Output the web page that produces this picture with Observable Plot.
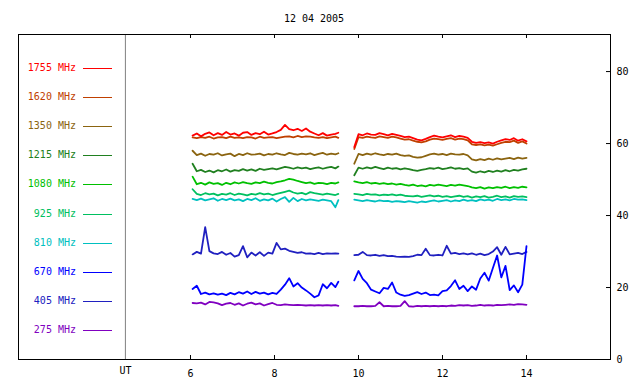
<!DOCTYPE html>
<html><head><meta charset="utf-8">
<script src="https://cdn.jsdelivr.net/npm/d3@7"></script>
<script src="https://cdn.jsdelivr.net/npm/@observablehq/plot@0.6"></script>
<style>
body{margin:0;background:#fff}
#wrap{position:relative;width:640px;height:384px;font-family:"DejaVu Sans Mono",monospace;font-size:10px}
#wrap svg{position:absolute;left:0;top:0}
#title{position:absolute;left:18px;width:592px;top:12px;text-align:center;line-height:14px;z-index:1}
#legend{position:absolute;left:0;top:0;width:125px;height:384px;z-index:1}
.row{position:absolute;left:0;display:flex;align-items:center;height:14px}
.lab{width:76px;text-align:right;white-space:pre;line-height:14px}
.sw{margin-left:7px;width:29px;height:1px}
</style></head>
<body><div id="wrap"><div id="title"></div><div id="legend"></div></div>
<script>
const titleText = "12 04 2005";
const hourTicks = [6, 8, 10, 12, 14];
const valueTicks = [0, 20, 40, 60, 80];
const panelEdge = [4.45];
const xDomain = [1.905, 16.0];
const yDomain = [0, 90.3];

const labels = ["1755 MHz","1620 MHz","1350 MHz","1215 MHz","1080 MHz","925 MHz","810 MHz","670 MHz","405 MHz","275 MHz"];
const colors = ["#ff0000","#c04000","#8b6410","#208020","#00c000","#00c060","#00c0c0","#0000ff","#2020c0","#8000c0"];

const times1 = [6.05,6.15,6.25,6.35,6.45,6.55,6.65,6.75,6.85,6.95,
  7.05,7.15,7.25,7.35,7.45,7.55,7.65,7.75,7.85,7.95,
  8.05,8.15,8.25,8.35,8.45,8.55,8.65,8.75,8.85,8.95,
  9.05,9.15,9.25,9.35,9.45,9.52];
const times2 = [9.9,10.0,10.1,10.2,10.3,10.4,10.5,10.6,10.7,10.8,
  10.9,11.0,11.1,11.2,11.3,11.4,11.5,11.6,11.7,11.8,
  11.9,12.0,12.1,12.2,12.3,12.4,12.5,12.6,12.7,12.8,
  12.9,13.0,13.1,13.2,13.3,13.4,13.5,13.6,13.7,13.8,
  13.9,14.0];

const f1755a = [62.2,62.8,62.0,62.7,63.1,62.3,62.9,62.4,63.2,62.5,
  62.8,62.2,63.0,63.2,62.4,62.9,62.6,63.3,62.5,62.8,
  63.2,63.8,65.2,64.0,63.7,64.1,63.5,64.2,63.3,62.8,
  62.3,62.9,62.2,62.5,62.7,63.0];
const f1755b = [59.0,62.6,62.3,62.8,62.5,62.4,62.9,62.6,62.3,62.7,
  62.4,62.1,61.8,61.9,61.5,61.1,60.9,61.3,61.8,62.2,
  61.9,61.7,62.0,62.3,61.8,62.1,61.9,61.6,60.5,60.2,
  60.4,60.1,60.3,60.0,60.5,60.9,61.2,61.0,61.5,60.8,
  61.2,60.6];
const f1620a = [61.7,61.5,61.8,61.6,61.9,61.4,61.7,61.8,61.5,61.9,
  61.6,61.7,61.5,61.8,61.7,61.4,61.9,61.6,61.7,61.8,
  61.5,61.7,61.9,62.0,61.7,62.1,61.8,62.0,61.9,61.7,
  61.6,61.8,61.5,61.7,61.9,61.6];
const f1620b = [58.5,61.8,61.6,61.9,61.7,61.6,62.0,61.8,61.6,61.9,
  61.7,61.4,61.1,61.2,60.8,60.5,60.3,60.6,61.1,61.4,
  61.2,61.0,61.3,61.5,61.1,61.4,61.2,60.9,59.8,59.6,
  59.8,59.5,59.7,59.4,59.8,60.2,60.5,60.4,60.8,60.2,
  60.6,60.0];
const f1350a = [58.0,56.8,57.2,56.6,57.1,56.9,57.3,56.7,57.0,57.2,
  56.5,57.1,56.8,57.3,56.9,57.0,57.2,56.7,57.1,56.9,
  57.3,57.0,56.8,57.4,57.1,56.9,57.2,57.0,57.3,56.8,
  57.1,57.4,56.9,57.2,57.0,57.3];
const f1350b = [54.4,57.1,56.8,57.2,56.9,57.3,57.0,56.8,57.1,56.9,
  57.2,56.8,56.6,56.7,56.3,56.1,56.2,56.6,57.0,57.2,
  56.9,57.1,56.8,57.2,57.0,56.9,57.1,56.7,55.6,55.3,
  55.7,55.4,55.8,55.5,55.9,55.6,55.8,56.0,55.7,56.1,
  55.8,56.0];
const f1215a = [54.4,52.3,52.7,52.1,52.5,52.0,52.6,52.3,52.8,52.2,
  52.6,52.4,52.9,52.5,52.8,52.4,53.0,52.7,52.9,53.1,
  52.8,53.2,53.5,53.3,53.0,53.4,53.1,53.3,52.9,53.2,
  53.4,53.0,53.3,53.5,53.1,53.6];
const f1215b = [51.2,53.3,53.0,53.4,53.1,53.5,53.2,52.9,53.3,53.0,
  53.2,52.8,53.1,52.9,52.6,52.4,52.7,52.9,53.2,53.0,
  53.3,52.9,53.1,53.4,53.0,53.2,52.9,53.1,52.2,51.9,
  52.3,52.0,52.4,52.1,52.5,52.2,52.6,52.3,52.7,52.5,
  52.8,53.0];
const f1080a = [50.8,48.7,49.1,48.6,49.2,48.8,49.0,48.5,49.1,48.7,
  49.2,48.9,49.3,49.0,48.8,49.2,49.0,49.4,49.1,48.9,
  49.3,49.5,49.8,50.2,50.0,49.6,49.3,49.0,49.2,48.8,
  49.1,49.0,48.7,49.1,48.9,49.2];
const f1080b = [49.5,49.2,49.0,49.3,48.9,49.1,48.8,49.0,48.7,48.9,
  48.6,48.8,48.5,48.3,48.6,48.2,48.4,48.1,48.5,48.3,
  48.6,48.4,48.2,48.5,48.3,48.6,48.4,48.2,47.8,47.6,
  47.9,47.5,47.8,47.6,47.9,47.7,48.0,47.6,47.9,47.7,
  48.0,47.8];
const f925a = [47.3,46.0,45.7,46.2,45.9,46.1,45.6,46.0,45.8,46.2,
  45.7,46.1,45.9,45.6,46.0,45.8,46.2,45.9,46.1,45.7,
  46.0,46.3,46.6,46.9,46.4,46.1,46.3,45.9,46.5,46.2,
  46.0,45.8,46.1,45.9,45.7,46.0];
const f925b = [46.0,45.9,45.7,46.0,45.8,45.9,45.6,45.8,45.7,45.9,
  45.6,45.8,45.5,45.4,45.3,45.5,45.2,45.4,45.6,45.3,
  45.5,45.2,45.4,45.1,45.3,45.5,45.2,45.4,45.0,45.3,
  45.1,45.4,45.0,45.2,45.5,45.1,45.3,45.0,45.4,45.2,
  45.3,45.1];
const f810a = [44.6,44.3,44.7,44.2,44.5,44.8,44.1,44.6,44.3,44.7,
  44.2,44.5,44.0,44.6,44.3,44.8,44.1,44.5,44.2,44.7,
  43.9,44.6,45.1,43.8,44.9,44.0,44.6,44.2,44.5,44.3,
  44.1,44.4,44.2,44.0,42.3,44.3];
const f810b = [44.4,44.2,44.0,44.3,44.1,43.9,44.2,44.0,44.1,43.8,
  44.0,43.9,43.7,44.0,43.8,43.6,43.9,43.7,44.0,44.2,
  43.9,44.1,44.3,43.9,44.2,44.0,44.4,44.1,44.3,44.0,
  44.5,44.2,44.4,44.1,44.6,44.3,44.5,44.2,44.6,44.4,
  44.5,44.3];
const f670a = [19.6,20.5,18.2,18.6,18.1,18.4,18.0,18.3,17.9,18.5,
  18.1,18.7,18.3,18.9,18.2,18.8,18.3,18.6,18.1,18.5,
  18.2,19.4,20.8,22.6,20.3,21.2,20.0,19.2,18.3,17.3,
  17.8,20.9,19.8,21.3,20.1,21.6];
const f670b = [22.0,24.6,22.4,21.2,19.4,18.9,18.4,19.9,19.6,21.4,
  18.6,18.0,17.7,17.9,18.3,18.7,18.2,18.6,17.9,18.0,
  17.8,19.0,19.2,20.4,22.0,19.6,20.5,19.0,20.3,19.4,
  22.5,24.1,21.9,25.4,28.9,22.8,26.0,19.3,20.6,18.7,
  20.8,31.5];
const f405a = [29.2,29.9,29.4,36.8,30.1,29.5,29.3,29.9,29.1,29.6,
  28.6,29.0,31.5,28.4,29.7,28.9,29.8,28.8,29.7,29.4,
  32.4,30.6,30.8,30.2,29.9,29.6,29.8,29.4,29.5,29.3,
  29.6,29.3,29.5,29.4,29.5,29.4];
const f405b = [29.0,29.1,29.9,29.0,28.9,29.1,28.8,29.0,28.7,28.8,
  28.6,28.5,28.6,28.5,28.7,29.1,29.0,30.8,29.0,28.9,
  29.1,28.9,31.6,29.4,29.6,29.3,29.5,29.2,29.5,29.1,
  29.4,29.0,29.3,30.0,31.2,29.1,31.3,29.2,29.4,29.6,
  29.3,29.9];
const f275a = [15.7,15.6,15.8,15.3,16.0,15.9,15.6,15.1,15.5,15.7,
  15.2,15.6,15.0,15.5,15.8,15.3,15.6,15.0,15.4,15.7,
  15.2,15.1,15.3,15.2,15.1,15.2,15.1,15.0,15.1,15.0,
  15.1,15.0,15.1,15.0,15.1,14.9];
const f275b = [14.8,14.8,14.9,14.8,14.8,14.9,15.9,14.8,14.9,14.8,
  14.8,14.9,16.2,14.8,14.7,14.9,14.8,14.9,14.8,14.9,
  14.8,14.9,14.8,15.0,14.9,15.1,15.0,15.1,14.9,15.0,
  15.2,15.0,15.1,15.0,15.2,15.1,15.2,15.3,15.2,15.4,
  15.3,15.2];

const seriesA = [f1755a,f1620a,f1350a,f1215a,f1080a,f925a,f810a,f670a,f405a,f275a];
const seriesB = [f1755b,f1620b,f1350b,f1215b,f1080b,f925b,f810b,f670b,f405b,f275b];

// draw order: bottom (275) first, 1755 last (on top)
const lineMarks = [];
for (let i = labels.length - 1; i >= 0; i--) {
  const rows = [];
  times1.forEach((t, j) => rows.push({t, v: seriesA[i][j], seg: "a"}));
  times2.forEach((t, j) => rows.push({t, v: seriesB[i][j], seg: "b"}));
  lineMarks.push(Plot.line(rows, {x: "t", y: "v", z: "seg", stroke: colors[i], strokeWidth: 1.8}));
}

const chart = Plot.plot({
  width: 640, height: 384,
  marginTop: 34, marginBottom: 25, marginLeft: 18, marginRight: 30,
  x: {domain: xDomain},
  y: {domain: yDomain},
  style: {fontFamily: "DejaVu Sans Mono, monospace", fontSize: "10px", background: "white", color: "black"},
  marks: [
    Plot.ruleX(panelEdge, {stroke: "#808080"}),
    ...lineMarks,
    Plot.tickX(hourTicks, {insetTop: 321, stroke: "black"}),
    Plot.tickX(hourTicks, {insetBottom: 321, stroke: "black"}),
    Plot.tickY(valueTicks, {insetLeft: 588, stroke: "black"}),
    Plot.axisX(hourTicks, {anchor: "bottom", tickSize: 0, tickPadding: 10, label: null}),
    Plot.axisX(panelEdge, {anchor: "bottom", tickSize: 0, tickPadding: 7, label: null, tickFormat: () => "UT"}),
    Plot.axisY(valueTicks, {anchor: "right", tickSize: 0, tickPadding: 6, label: null}),
    Plot.frame({stroke: "black"})
  ]
});
const wrap = document.getElementById("wrap");
wrap.prepend(chart);
document.getElementById("title").textContent = titleText;
const legend = document.getElementById("legend");
labels.forEach((l, i) => {
  const row = document.createElement("div");
  row.className = "row";
  row.style.top = Math.round(60.5 + i * 29.2) + "px";
  const lab = document.createElement("span");
  lab.className = "lab"; lab.textContent = l; lab.style.color = colors[i];
  const sw = document.createElement("span");
  sw.className = "sw"; sw.style.background = colors[i];
  row.append(lab, sw);
  legend.append(row);
});
</script>
</body></html>
